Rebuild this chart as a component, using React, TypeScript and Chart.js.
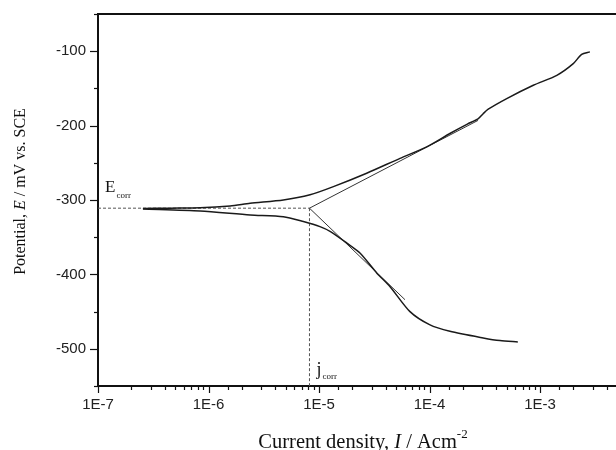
import React, { useEffect, useRef } from "react";
import { Chart, registerables } from "chart.js";

Chart.register(...registerables);

// ---- data ----
const anodicCurrent = [2.55e-7, 4.5e-7, 8.4e-7, 1.57e-6, 2.38e-6, 4.76e-6, 8.3e-6, 1.35e-5, 2.7e-5, 5.41e-5, 9.43e-5, 1.53e-4, 2.2e-4, 2.75e-4, 3.06e-4, 3.4e-4, 5.0e-4, 8.7e-4, 1.42e-3, 2.0e-3, 2.38e-3, 2.83e-3];
const anodicPotential = [-311.5, -311, -310.5, -308, -304.4, -300, -293, -282, -264, -244, -228.5, -210.6, -198, -191, -184, -178, -163.7, -145.8, -132.4, -116.7, -104.3, -100.9];

const cathodicCurrent = [2.55e-7, 8.4e-7, 2.38e-6, 4.76e-6, 7.22e-6, 1.02e-5, 1.27e-5, 1.79e-5, 2.36e-5, 3.34e-5, 4.38e-5, 6.62e-5, 1.0e-4, 1.53e-4, 3.06e-4, 4.34e-4, 6.3e-4];
const cathodicPotential = [-312, -314.7, -320, -322.4, -329, -335.8, -342.5, -358, -371.5, -398.3, -416.2, -449.7, -467.5, -476.5, -485.4, -489, -490.8];

const anodicTafelCurrent = [8.2e-6, 2.75e-4];
const anodicTafelPotential = [-311, -193];
const cathodicTafelCurrent = [8.2e-6, 6.0e-5];
const cathodicTafelPotential = [-311, -434];

const eCorr = -311;
const jCorr = 8.2e-6;

const xMin = 1e-7;
const xMax = 1e-2;
const yMin = -550;
const yMax = -50;
const yStep = 50;
const yLabelStep = 100;

const pts = (xs: number[], ys: number[]) => xs.map((x, i) => ({ x, y: ys[i] }));

const isDecade = (v: number) => {
  const lg = Math.log10(v);
  return Math.abs(lg - Math.round(lg)) < 1e-6;
};

const SERIF = "'Liberation Serif', 'Times New Roman', serif";

const drawSegments = (
  ctx: CanvasRenderingContext2D,
  segs: { t: string; font: string; dy?: number }[],
  cx: number,
  baseline: number
) => {
  let total = 0;
  segs.forEach((s) => {
    ctx.font = s.font;
    total += ctx.measureText(s.t).width;
  });
  let x = cx - total / 2;
  segs.forEach((s) => {
    ctx.font = s.font;
    ctx.fillText(s.t, x, baseline + (s.dy || 0));
    x += ctx.measureText(s.t).width;
  });
};

const decorPlugin = {
  id: "decor",
  afterDraw(chart: any) {
    const { ctx, chartArea: ca, scales } = chart;
    const xs = scales.x;
    const ys = scales.y;
    ctx.save();
    ctx.strokeStyle = "#111";
    ctx.lineWidth = 1.2;
    // x ticks
    xs.ticks.forEach((t: any) => {
      const px = xs.getPixelForValue(t.value);
      if (px < ca.left - 0.5 || px > ca.right + 0.5) return;
      const len = isDecade(t.value) ? 7 : 4;
      const p = Math.round(px) + 0.5;
      ctx.beginPath();
      ctx.moveTo(p, ca.bottom);
      ctx.lineTo(p, ca.bottom + len);
      ctx.stroke();
    });
    // y ticks
    ys.ticks.forEach((t: any) => {
      const py = ys.getPixelForValue(t.value);
      const len = Math.abs(t.value % yLabelStep) < 1e-6 ? 8 : 4;
      const p = Math.round(py) + 0.5;
      ctx.beginPath();
      ctx.moveTo(ca.left, p);
      ctx.lineTo(ca.left - len, p);
      ctx.stroke();
    });
    // top frame
    ctx.lineWidth = 2;
    ctx.beginPath();
    ctx.moveTo(ca.left - 1, ca.top);
    ctx.lineTo(ca.right, ca.top);
    ctx.stroke();

    ctx.fillStyle = "#111";
    ctx.textAlign = "left";
    ctx.textBaseline = "alphabetic";
    // E_corr label
    const ex = xs.getPixelForValue(xMin) + 7;
    const ey = ys.getPixelForValue(eCorr) - 16;
    ctx.font = `17px ${SERIF}`;
    ctx.fillText("E", ex, ey);
    const ew = ctx.measureText("E").width;
    ctx.font = `9px ${SERIF}`;
    ctx.fillText("corr", ex + ew + 1, ey + 6);
    // j_corr label
    const jx = xs.getPixelForValue(jCorr) + 7;
    const jy = ys.getPixelForValue(yMin) - 11;
    ctx.font = `18px ${SERIF}`;
    ctx.fillText("j", jx, jy);
    const jw = ctx.measureText("j").width;
    ctx.font = `9px ${SERIF}`;
    ctx.fillText("corr", jx + jw + 1, jy + 4);

    // x title
    drawSegments(
      ctx,
      [
        { t: "Current density, ", font: `20.5px ${SERIF}` },
        { t: "I", font: `italic 20.5px ${SERIF}` },
        { t: " / Acm", font: `20.5px ${SERIF}` },
        { t: "-2", font: `13px ${SERIF}`, dy: -10 },
      ],
      363,
      448
    );
    // y title
    ctx.save();
    ctx.translate(25, 191.5);
    ctx.rotate(-Math.PI / 2);
    drawSegments(
      ctx,
      [
        { t: "Potential, ", font: `16px ${SERIF}` },
        { t: "E", font: `italic 16px ${SERIF}` },
        { t: " / mV vs. SCE", font: `16px ${SERIF}` },
      ],
      0,
      0
    );
    ctx.restore();
    ctx.restore();
  },
};

export default function App() {
  const ref = useRef<HTMLCanvasElement | null>(null);

  useEffect(() => {
    if (!ref.current) return;
    const curve = { borderColor: "#1a1a1a", borderWidth: 1.5, pointRadius: 0, showLine: true, fill: false, tension: 0.25 };
    const tafel = { borderColor: "#333", borderWidth: 1, pointRadius: 0, showLine: true, fill: false };
    const dashed = { borderColor: "#555", borderWidth: 1, pointRadius: 0, showLine: true, fill: false, borderDash: [3, 2] };
    const chart = new Chart(ref.current, {
      type: "scatter",
      data: {
        datasets: [
          { label: "anodic", data: pts(anodicCurrent, anodicPotential), ...curve },
          { label: "cathodic", data: pts(cathodicCurrent, cathodicPotential), ...curve },
          { label: "anodic Tafel", data: pts(anodicTafelCurrent, anodicTafelPotential), ...tafel },
          { label: "cathodic Tafel", data: pts(cathodicTafelCurrent, cathodicTafelPotential), ...tafel },
          { label: "Ecorr", data: [{ x: xMin, y: eCorr }, { x: jCorr, y: eCorr }], ...dashed },
          { label: "jcorr", data: [{ x: jCorr, y: eCorr }, { x: jCorr, y: yMin }], ...dashed },
        ] as any,
      },
      options: {
        animation: false,
        responsive: false,
        maintainAspectRatio: false,
        layout: { padding: { top: 14, right: 29.5, left: 0, bottom: 0 } },
        plugins: { legend: { display: false }, tooltip: { enabled: false }, title: { display: false } },
        scales: {
          x: {
            type: "logarithmic",
            min: xMin,
            max: xMax,
            grid: { display: false, drawTicks: false },
            border: { display: true, color: "#111", width: 2 },
            afterFit: (s: any) => {
              s.height = 64;
              s.paddingLeft = 0;
              s.paddingRight = 0;
            },
            ticks: {
              autoSkip: false,
              maxRotation: 0,
              minRotation: 0,
              padding: 10,
              color: "#222",
              font: { family: "'Liberation Sans', Arial, sans-serif", size: 15 },
              callback: (v: any) => {
                const n = Number(v);
                return isDecade(n) ? "1E" + Math.round(Math.log10(n)) : "";
              },
            },
          },
          y: {
            type: "linear",
            min: yMin,
            max: yMax,
            grid: { display: false, drawTicks: false },
            border: { display: true, color: "#111", width: 2 },
            afterFit: (s: any) => {
              s.width = 98;
              s.paddingTop = 0;
              s.paddingBottom = 0;
            },
            ticks: {
              stepSize: yStep,
              autoSkip: false,
              padding: 12,
              color: "#222",
              font: { family: "'Liberation Sans', Arial, sans-serif", size: 15 },
              callback: (v: any) => (Math.abs(Number(v) % yLabelStep) < 1e-6 ? String(v) : ""),
            },
          },
        },
      },
      plugins: [decorPlugin],
    });
    return () => chart.destroy();
  }, []);

  return (
    <div style={{ position: "fixed", left: 0, top: 0, width: 616, height: 450, overflow: "hidden", background: "#fff" }}>
      <canvas ref={ref} width={680} height={450} style={{ width: 680, height: 450, display: "block" }} />
    </div>
  );
}
